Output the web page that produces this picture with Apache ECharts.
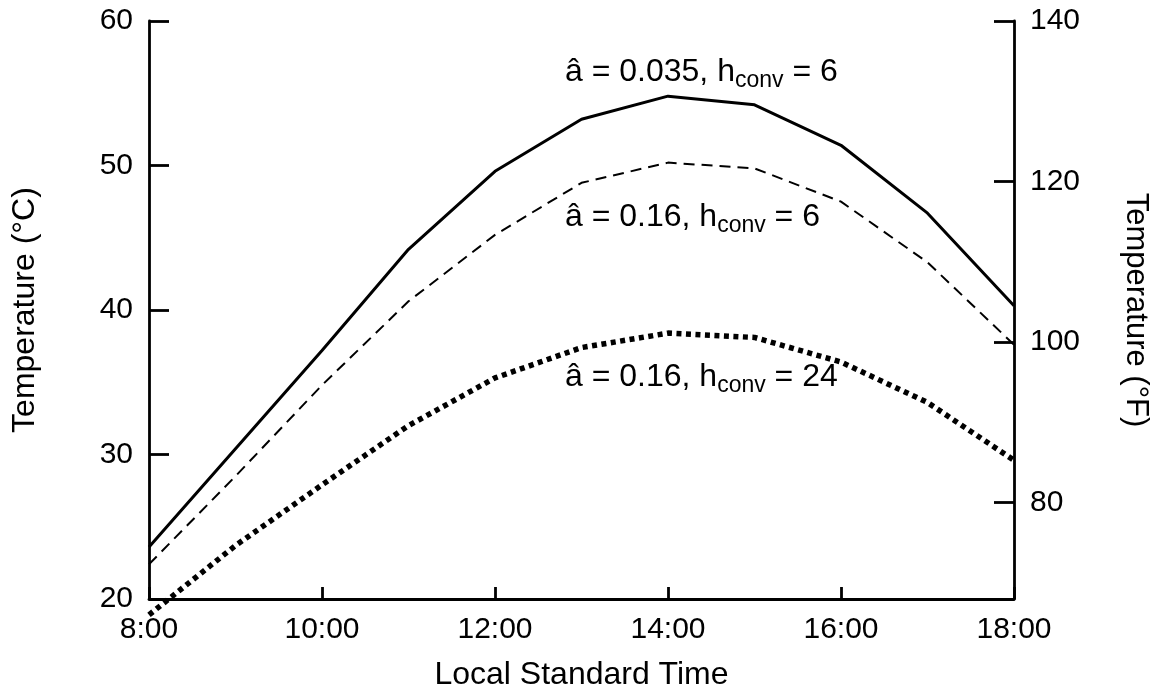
<!DOCTYPE html>
<html>
<head>
<meta charset="utf-8">
<style>
  html, body { margin: 0; padding: 0; background: #fff; }
  #chart { width: 1157px; height: 693px; }
</style>
<script src="https://cdn.jsdelivr.net/npm/echarts@6/dist/echarts.min.js"></script>
</head>
<body>
<div id="chart"></div>
<script>
// 时间 (小时)
var hours = [8, 9, 10, 11, 12, 13, 14, 15, 16, 17, 18];
// 三条曲线的温度 (°C)
var solidTemps  = [23.6, 30.4, 37.2, 44.2, 49.6, 53.2, 54.8, 54.2, 51.4, 46.7, 40.3];
var dashedTemps = [22.4, 28.5, 34.8, 40.6, 45.2, 48.8, 50.2, 49.8, 47.5, 43.3, 37.6];
var dottedTemps = [18.9, 23.7, 27.9, 32.0, 35.3, 37.4, 38.4, 38.1, 36.4, 33.6, 29.6];
// 右轴刻度 (°F)
var fahrenheitTicks = [80, 100, 120, 140];
// 曲线标注
var curveLabels = [
  { a: '0.035', h: '6' },
  { a: '0.16', h: '6' },
  { a: '0.16', h: '24' }
];

function pairs(vals) {
  return hours.map(function (h, i) { return [h, vals[i]]; });
}

var FONT = "'Liberation Sans', Arial, sans-serif";
var myChart = echarts.init(document.getElementById('chart'));

// 标注位置 (像素)
var labelPos = [[565, 72], [565, 217], [565, 377]];

var option = {
  backgroundColor: '#fff',
  animation: false,
  textStyle: { fontFamily: FONT, color: '#000' },
  grid: {
    left: 149, right: 143, top: 21, bottom: 94,
    containLabel: false,
    outerBoundsMode: 'none'
  },
  xAxis: {
    type: 'value',
    min: 8, max: 18, interval: 2,
    name: 'Local Standard Time',
    nameLocation: 'middle',
    nameGap: 60,
    nameTextStyle: { fontSize: 32, fontFamily: FONT, color: '#000' },
    axisLine: { lineStyle: { color: '#000', width: 2.8 } },
    axisTick: { inside: true, length: 12, lineStyle: { color: '#000', width: 2.8 } },
    axisLabel: {
      fontSize: 30, fontFamily: FONT, color: '#000', margin: 16,
      formatter: function (v) { return v + ':00'; }
    },
    splitLine: { show: false }
  },
  yAxis: [
    {
      type: 'value',
      min: 20, max: 60, interval: 10,
      position: 'left',
      name: 'Temperature (°C)',
      nameLocation: 'middle',
      nameGap: 108,
      nameRotate: 90,
      nameTextStyle: { fontSize: 32, fontFamily: FONT, color: '#000' },
      axisLine: { show: true, lineStyle: { color: '#000', width: 2.8 } },
      axisTick: { inside: true, length: 20, lineStyle: { color: '#000', width: 2.8 } },
      axisLabel: { fontSize: 30, fontFamily: FONT, color: '#000', margin: 16 },
      splitLine: { show: false }
    },
    {
      type: 'value',
      min: 68, max: 140,
      position: 'right',
      name: 'Temperature (°F)',
      nameLocation: 'middle',
      nameGap: 106,
      nameRotate: -90,
      nameTextStyle: { fontSize: 31, fontFamily: FONT, color: '#000' },
      axisLine: { show: true, lineStyle: { color: '#000', width: 2.8 } },
      axisTick: {
        inside: true, length: 20, customValues: fahrenheitTicks,
        lineStyle: { color: '#000', width: 2.8 }
      },
      axisLabel: {
        fontSize: 30, fontFamily: FONT, color: '#000', margin: 16,
        customValues: fahrenheitTicks
      },
      splitLine: { show: false }
    }
  ],
  series: [
    {
      type: 'line', data: pairs(solidTemps), symbol: 'none', clip: false,
      lineStyle: { color: '#000', width: 3, type: 'solid' }
    },
    {
      type: 'line', data: pairs(dashedTemps), symbol: 'none', clip: false,
      lineStyle: { color: '#000', width: 2, type: [11, 7] }
    },
    {
      type: 'line', data: pairs(dottedTemps), symbol: 'none', clip: false,
      lineStyle: { color: '#000', width: 5.5, type: [5, 4.5], cap: 'butt' }
    }
  ],
  graphic: curveLabels.map(function (c, i) {
    return {
      type: 'text',
      x: labelPos[i][0],
      y: labelPos[i][1],
      style: {
        text: '{m|â = ' + c.a + ', h}{s|conv}{m| = ' + c.h + '}',
        verticalAlign: 'middle',
        rich: {
          m: { fontSize: 32, fontFamily: FONT, fill: '#000' },
          s: { fontSize: 23, fontFamily: FONT, fill: '#000', padding: [18, 0, 0, 0] }
        }
      }
    };
  })
};

myChart.setOption(option);
window.addEventListener('resize', function () {
  myChart.resize();
});
</script>
</body>
</html>
